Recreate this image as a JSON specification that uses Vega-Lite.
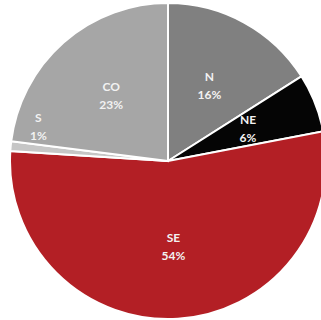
{
  "$schema": "https://vega.github.io/schema/vega-lite/v6.json",
  "width": 336,
  "height": 322,
  "padding": 0,
  "autosize": "none",
  "background": "white",
  "view": {"stroke": null},
  "data": {"values": [
    {"region": "N", "pct": 16, "order": 1},
    {"region": "NE", "pct": 6, "order": 2},
    {"region": "SE", "pct": 54, "order": 3},
    {"region": "S", "pct": 1, "order": 4},
    {"region": "CO", "pct": 23, "order": 5}
  ]},
  "transform": [{"calculate": "datum.pct + '%'", "as": "pctLabel"}],
  "encoding": {
    "theta": {"field": "pct", "type": "quantitative", "stack": true},
    "order": {"field": "order", "type": "quantitative"}
  },
  "layer": [
    {
      "mark": {"type": "arc", "outerRadius": 158, "stroke": "white", "strokeWidth": 2},
      "encoding": {
        "color": {
          "field": "region", "type": "nominal",
          "scale": {"domain": ["N", "NE", "SE", "S", "CO"], "range": ["#808080", "#050505", "#b31f25", "#c6c6c6", "#a6a6a6"]},
          "legend": null
        }
      }
    },
    {
      "mark": {"type": "text", "radius": 86, "dy": -9, "font": "Lato", "fontWeight": "bold", "fontSize": 12, "fill": "#f2f2f2"},
      "encoding": {"text": {"condition": {"test": "datum.region == 'S'", "value": ""}, "field": "region"}}
    },
    {
      "mark": {"type": "text", "radius": 86, "dy": 9, "font": "Lato", "fontWeight": "bold", "fontSize": 12, "fill": "#f2f2f2"},
      "encoding": {"text": {"condition": {"test": "datum.region == 'S'", "value": ""}, "field": "pctLabel"}}
    },
    {
      "mark": {"type": "text", "radius": 134, "thetaOffset": 0.16, "dy": -9, "font": "Lato", "fontWeight": "bold", "fontSize": 12, "fill": "#f2f2f2"},
      "encoding": {"text": {"condition": {"test": "datum.region != 'S'", "value": ""}, "field": "region"}}
    },
    {
      "mark": {"type": "text", "radius": 134, "thetaOffset": 0.16, "dy": 9, "font": "Lato", "fontWeight": "bold", "fontSize": 12, "fill": "#f2f2f2"},
      "encoding": {"text": {"condition": {"test": "datum.region != 'S'", "value": ""}, "field": "pctLabel"}}
    }
  ]
}
